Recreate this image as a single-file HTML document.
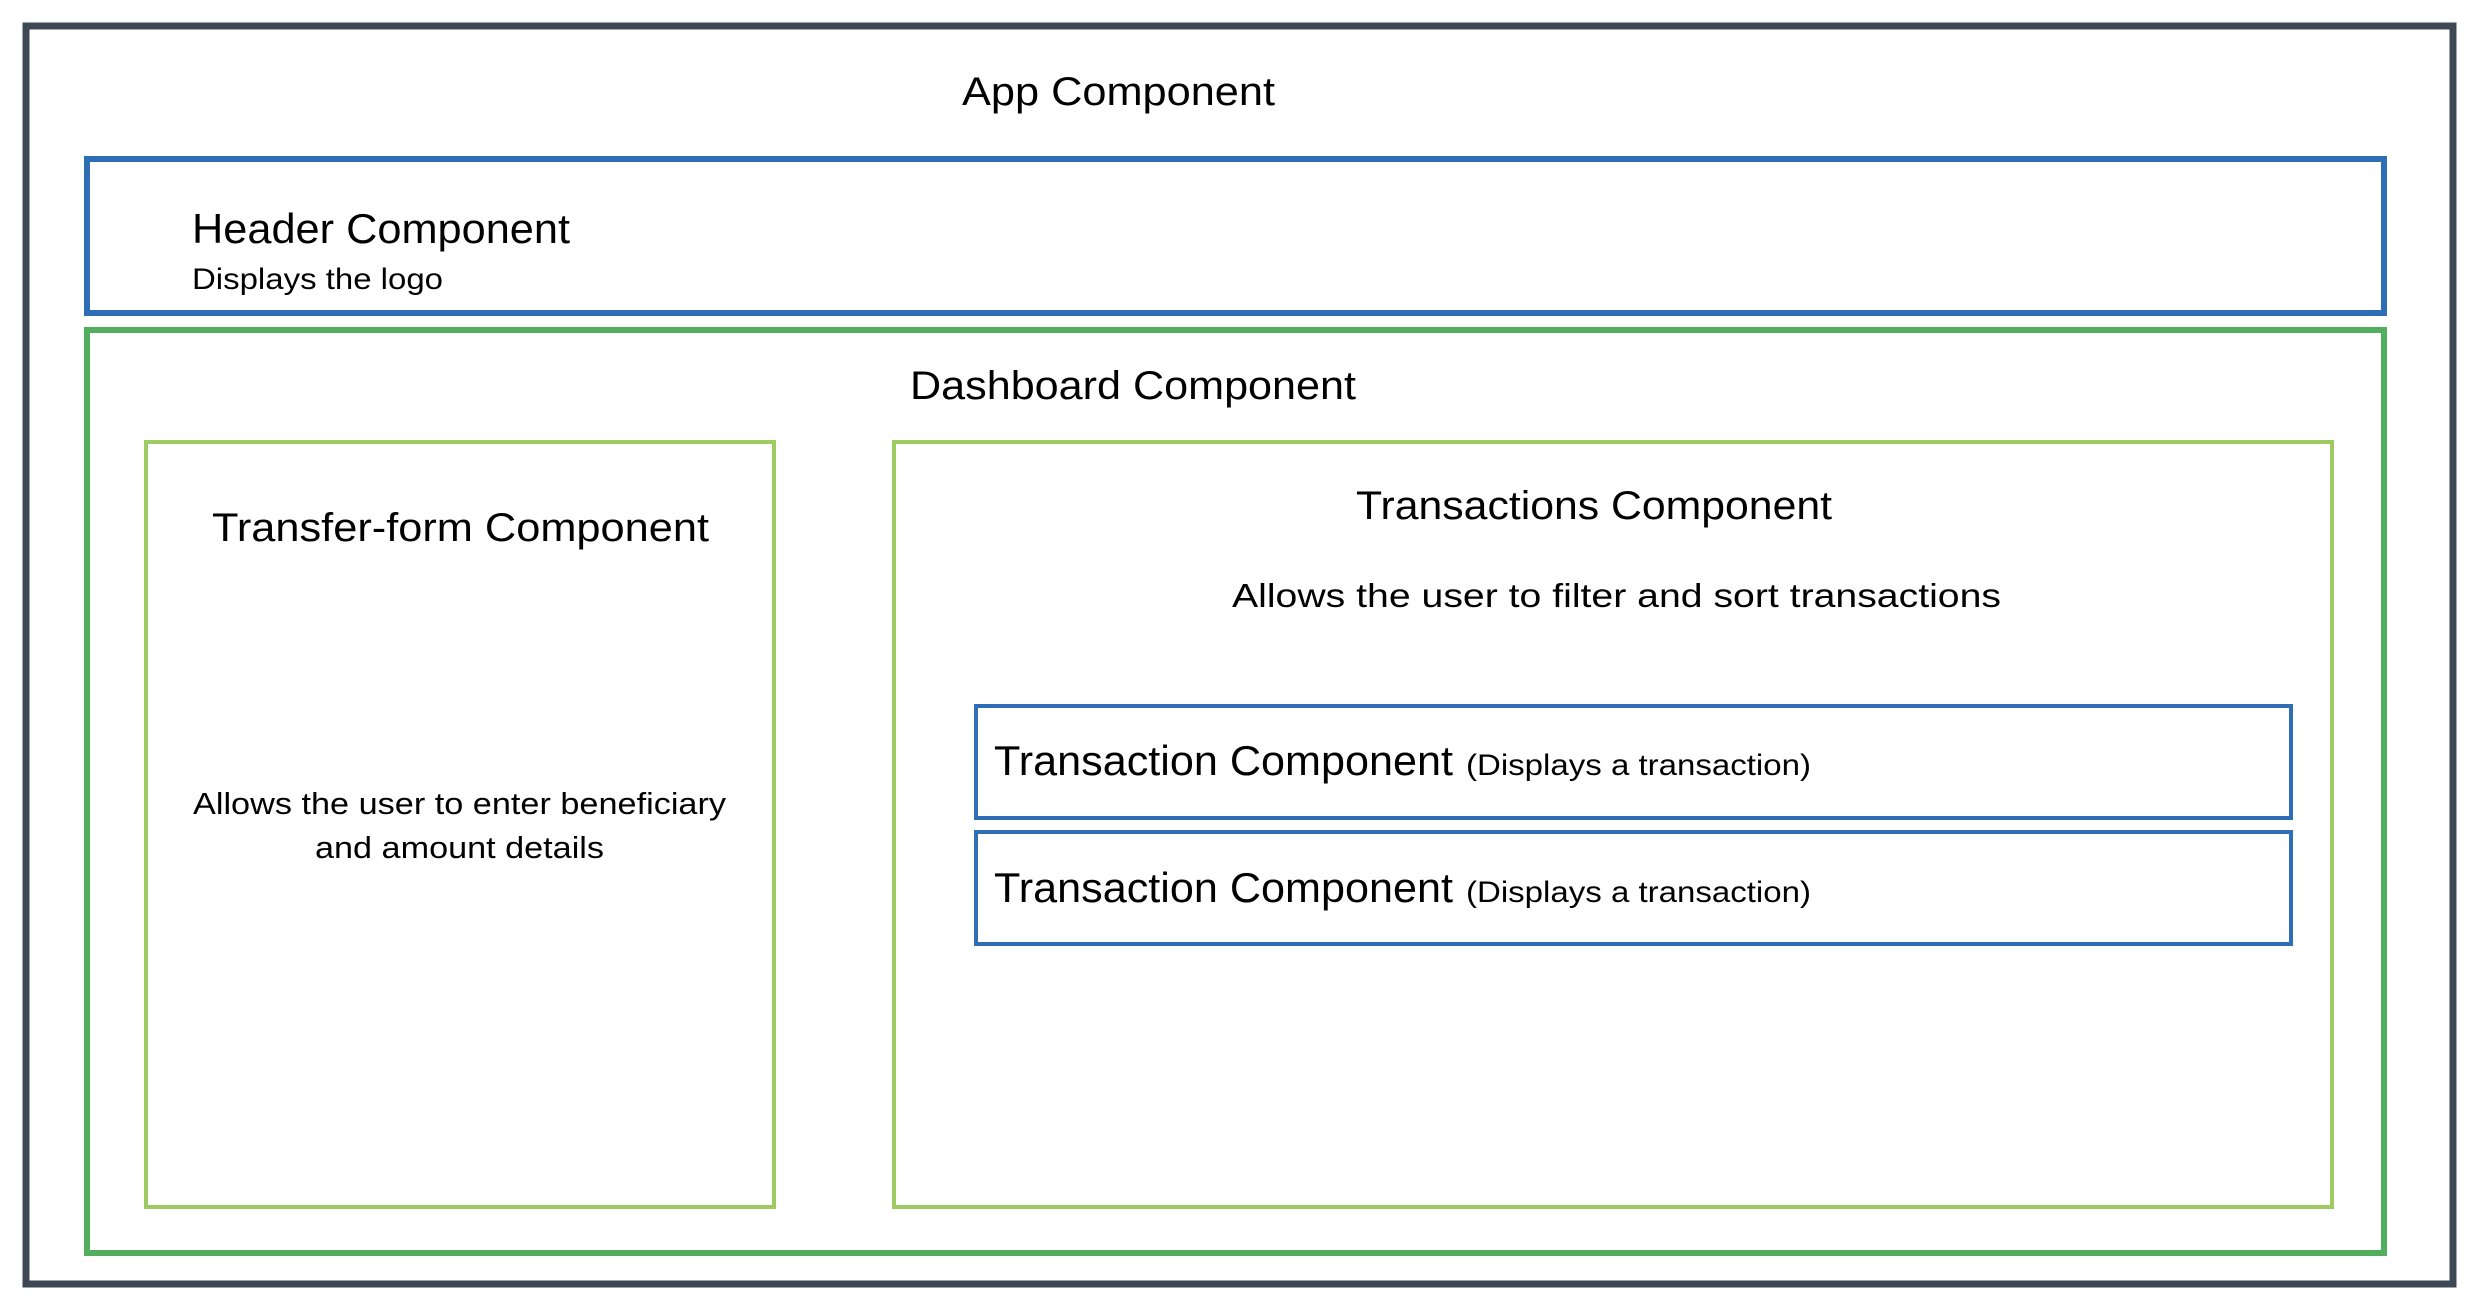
<!DOCTYPE html>
<html><head><meta charset="utf-8"><style>
html,body{margin:0;padding:0;background:#fff;width:2480px;height:1304px;overflow:hidden}
svg{display:block}
text{font-family:"Liberation Sans",sans-serif;fill:#000}
</style></head><body>
<svg width="2480" height="1304" viewBox="0 0 2480 1304" xmlns="http://www.w3.org/2000/svg">
<rect x="26" y="26" width="2427" height="1258" fill="none" stroke="#3d4756" stroke-width="7"/>
<rect x="87" y="159" width="2297" height="154" fill="none" stroke="#2e6eb5" stroke-width="6"/>
<rect x="87" y="330" width="2297" height="923" fill="none" stroke="#52ad5c" stroke-width="6"/>
<rect x="146" y="442" width="628" height="765" fill="none" stroke="#9dcb62" stroke-width="4"/>
<rect x="894" y="442" width="1438" height="765" fill="none" stroke="#9dcb62" stroke-width="4"/>
<rect x="976" y="706" width="1315" height="112" fill="none" stroke="#2e6eb5" stroke-width="4"/>
<rect x="976" y="832" width="1315" height="112" fill="none" stroke="#2e6eb5" stroke-width="4"/>

<text x="962" y="105" font-size="40" textLength="313" lengthAdjust="spacingAndGlyphs">App Component</text>
<text x="192" y="243" font-size="42" textLength="378" lengthAdjust="spacingAndGlyphs">Header Component</text>
<text x="192" y="289" font-size="30" textLength="251" lengthAdjust="spacingAndGlyphs">Displays the logo</text>
<text x="910" y="399" font-size="40" textLength="446" lengthAdjust="spacingAndGlyphs">Dashboard Component</text>
<text x="212" y="541" font-size="40" textLength="497" lengthAdjust="spacingAndGlyphs">Transfer-form Component</text>
<text x="193" y="814" font-size="31" textLength="533" lengthAdjust="spacingAndGlyphs">Allows the user to enter beneficiary</text>
<text x="315" y="858" font-size="31" textLength="289" lengthAdjust="spacingAndGlyphs">and amount details</text>
<text x="1356" y="519" font-size="40" textLength="476" lengthAdjust="spacingAndGlyphs">Transactions Component</text>
<text x="1232" y="607" font-size="33" textLength="769" lengthAdjust="spacingAndGlyphs">Allows the user to filter and sort transactions</text>
<text x="994" y="775" font-size="42" textLength="459" lengthAdjust="spacingAndGlyphs">Transaction Component</text>
<text x="1466" y="775" font-size="30" textLength="345" lengthAdjust="spacingAndGlyphs">(Displays a transaction)</text>
<text x="994" y="902" font-size="42" textLength="459" lengthAdjust="spacingAndGlyphs">Transaction Component</text>
<text x="1466" y="902" font-size="30" textLength="345" lengthAdjust="spacingAndGlyphs">(Displays a transaction)</text>
</svg>
</body></html>
